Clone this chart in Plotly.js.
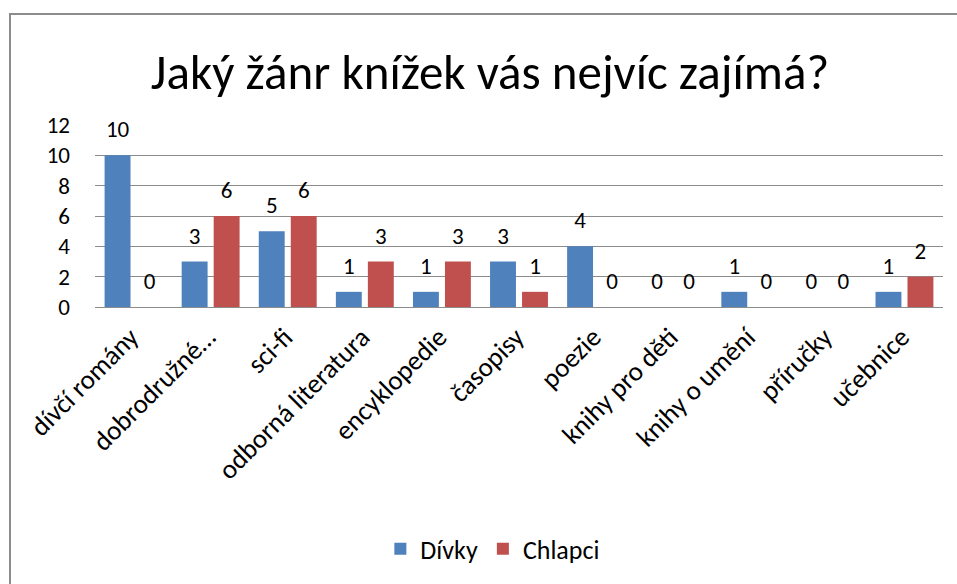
<!DOCTYPE html>
<html>
<head>
<meta charset="utf-8">
<script src="https://cdn.plot.ly/plotly-3.0.1.min.js"></script>
<style>
html, body { margin: 0; padding: 0; background: #ffffff; }
#frame { position: absolute; left: 9px; top: 13px; width: 960px; height: 580px;
  border-top: 2px solid #8c8c8c; border-left: 2px solid #8c8c8c; }
#chart { position: absolute; left: 0; top: 0; width: 957px; height: 584px; }
</style>
</head>
<body>
<div id="frame"></div>
<div id="chart"></div>
<script>
const categories = ["dívčí romány", "dobrodružné…", "sci-fi", "odborná literatura", "encyklopedie",
  "časopisy", "poezie", "knihy pro děti", "knihy o umění", "příručky", "učebnice"];
const divky = [10, 3, 5, 1, 1, 3, 4, 0, 1, 0, 1];
const chlapci = [0, 6, 6, 3, 3, 1, 0, 0, 0, 0, 2];
const yTicks = [0, 2, 4, 6, 8, 10, 12];

const FONT = "Carlito, 'Liberation Sans Narrow', 'Open Sans', sans-serif";
const GAP = 0.17;

function barTrace(name, vals, color) {
  return { type: 'bar', name: name, x: categories, y: vals, marker: { color: color },
    offsetgroup: name, hoverinfo: 'none' };
}
function labelTrace(name, vals) {
  return { type: 'scatter', mode: 'markers+text', name: name + ' labels', x: categories, y: vals,
    offsetgroup: name, text: vals.map(String), textposition: 'top center',
    textfont: { size: 23, color: '#000', family: FONT },
    marker: { size: 18, opacity: 0, color: '#fff' }, showlegend: false, cliponaxis: false, hoverinfo: 'none' };
}

const traces = [
  barTrace('Dívky', divky, '#4F81BD'),
  barTrace('Chlapci', chlapci, '#C0504D'),
  labelTrace('Dívky', divky),
  labelTrace('Chlapci', chlapci)
];

const layout = {
  width: 957, height: 584,
  paper_bgcolor: 'rgba(0,0,0,0)', plot_bgcolor: 'rgba(0,0,0,0)',
  font: { family: FONT, color: '#000', size: 23 },
  margin: { l: 95, r: 14, t: 125, b: 277 },
  title: { text: 'Jaký žánr knížek vás nejvíc zajímá?', font: { size: 49, family: FONT, color: '#000' },
    x: 0.512, xanchor: 'center', xref: 'container', y: 0.877, yanchor: 'middle', yref: 'container' },
  barmode: 'group', bargap: GAP, bargroupgap: 0.19,
  scattermode: 'group', scattergap: GAP,
  xaxis: { tickangle: -45, tickfont: { size: 27 }, showgrid: false, showline: false, ticks: '',
    ticklabelstandoff: 8, ticklabelshift: -3 },
  yaxis: { range: [0, 12], tickvals: yTicks, ticktext: yTicks.map(String), showgrid: true,
    gridcolor: '#8c8c8c', gridwidth: 1, zeroline: true, zerolinecolor: '#8c8c8c', zerolinewidth: 1,
    showline: false, ticks: '', ticklabelstandoff: 24, tickfont: { size: 23 } },
  showlegend: true,
  legend: { orientation: 'h', x: 0.515, xanchor: 'center', xref: 'container', y: 0.06, yanchor: 'middle', yref: 'container',
    font: { size: 26 }, itemwidth: 30, traceorder: 'normal' }
};

Plotly.newPlot('chart', traces, layout, { staticPlot: true, displayModeBar: false });
</script>
</body>
</html>
